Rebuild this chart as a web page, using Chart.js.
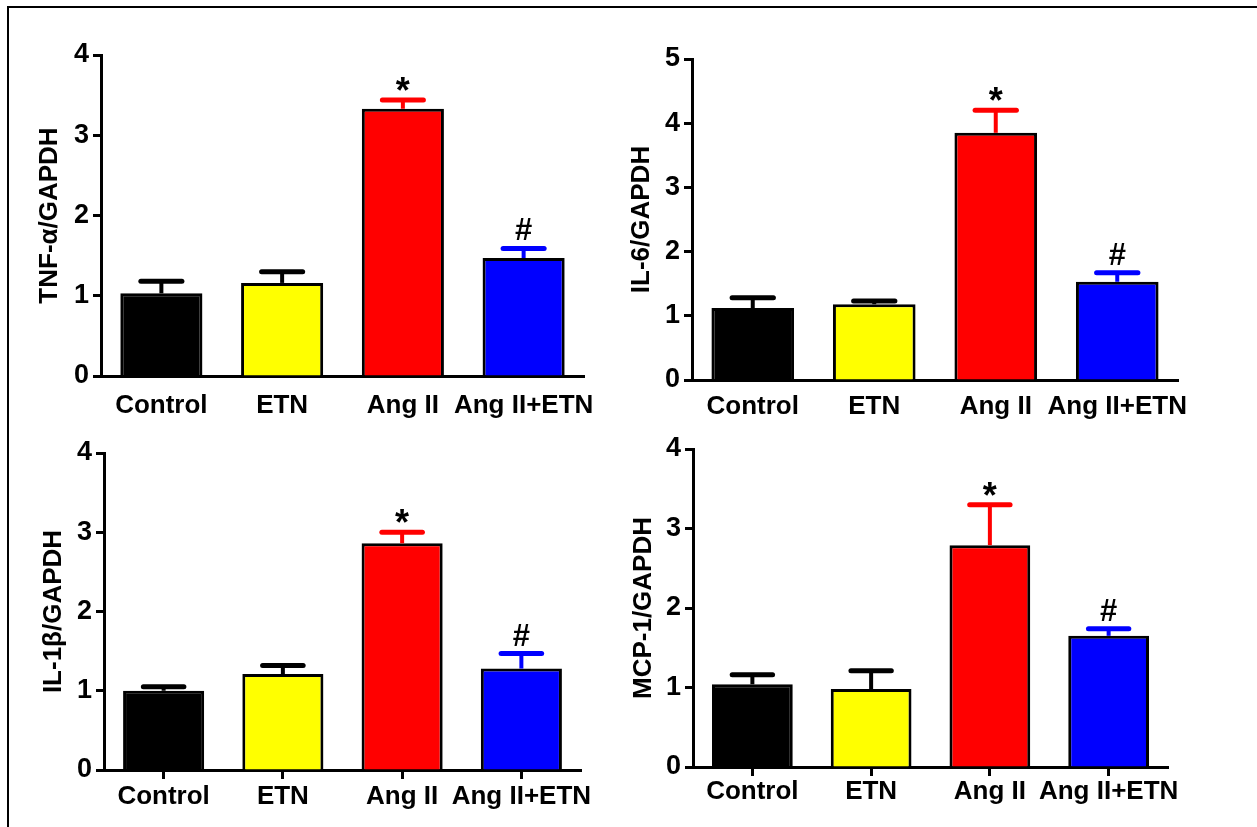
<!DOCTYPE html>
<html>
<head>
<meta charset="utf-8">
<script src="https://cdn.jsdelivr.net/npm/chart.js@4.4.1/dist/chart.umd.min.js"></script>
<style>
  body { margin: 0; background: #fff; width: 1257px; height: 827px; overflow: hidden; position: relative; }
  .frame { position: absolute; left: 7px; top: 6px; width: 1300px; height: 900px; border-top: 2px solid #000; border-left: 2px solid #000; }
  canvas { position: absolute; }
</style>
</head>
<body>
<div class="frame"></div>
<canvas id="tnf"></canvas>
<canvas id="il6"></canvas>
<canvas id="il1b"></canvas>
<canvas id="mcp"></canvas>
<script>
const categories = ["Control", "ETN", "Ang II", "Ang II+ETN"];

const tnfValues = [1.03, 1.16, 3.33, 1.47];
const tnfErrors = [0.15, 0.14, 0.11, 0.12];

const il6Values = [1.12, 1.18, 3.85, 1.53];
const il6Errors = [0.16, 0.05, 0.35, 0.14];

const il1bValues = [1.0, 1.21, 2.86, 1.28];
const il1bErrors = [0.05, 0.11, 0.14, 0.19];

const mcpValues = [1.04, 0.98, 2.79, 1.65];
const mcpErrors = [0.12, 0.23, 0.51, 0.09];

const marks = ["", "", "*", "#"];

const barColors = ["#000000", "#ffff00", "#ff0000", "#0000ff"];
const errorColors = ["#000000", "#000000", "#ff0000", "#0000ff"];

const FONT = "'Liberation Sans', Arial, sans-serif";

// box = canvas position, axis = where the axes should land on the page
const panels = [
  { id: "tnf", title: "TNF-α/GAPDH", values: tnfValues, errors: tnfErrors, max: 4,
    box: [10, 10, 610, 410], axis: [101, 55, 584, 376], titleOffset: 40, xTicks: false, labelPad: 14 },
  { id: "il6", title: "IL-6/GAPDH", values: il6Values, errors: il6Errors, max: 5,
    box: [620, 10, 620, 410], axis: [692, 59, 1178, 380], titleOffset: 22, xTicks: false, labelPad: 11 },
  { id: "il1b", title: "IL-1β/GAPDH", values: il1bValues, errors: il1bErrors, max: 4,
    box: [10, 420, 610, 407], axis: [104, 453, 581, 770], titleOffset: 44, xTicks: true, labelPad: 2 },
  { id: "mcp", title: "MCP-1/GAPDH", values: mcpValues, errors: mcpErrors, max: 4,
    box: [620, 420, 620, 407], axis: [693, 449, 1168, 767], titleOffset: 24, xTicks: true, labelPad: 0 },
];

const errorBars = {
  id: "errorBars",
  afterDatasetsDraw(chart) {
    const { ctx } = chart;
    const y = chart.scales.y;
    const ds = chart.data.datasets[0];
    const meta = chart.getDatasetMeta(0);
    ctx.save();
    meta.data.forEach((bar, i) => {
      const capY = y.getPixelForValue(ds.data[i] + ds.errors[i]);
      const half = bar.width / 4;
      ctx.strokeStyle = errorColors[i];
      ctx.lineCap = "butt";
      ctx.lineWidth = 4;
      ctx.beginPath();
      ctx.moveTo(bar.x, bar.y);
      ctx.lineTo(bar.x, capY);
      ctx.stroke();
      ctx.lineWidth = 5;
      ctx.lineCap = "round";
      ctx.beginPath();
      ctx.moveTo(bar.x - half, capY);
      ctx.lineTo(bar.x + half, capY);
      ctx.stroke();

      if (marks[i]) {
        ctx.fillStyle = "#000";
        ctx.textAlign = "center";
        ctx.textBaseline = "alphabetic";
        if (marks[i] === "*") {
          ctx.font = "bold 36px " + FONT;
          ctx.fillText(marks[i], bar.x, capY + 3);
        } else {
          ctx.font = "bold 31px " + FONT;
          ctx.fillText(marks[i], bar.x, capY - 8);
        }
      }
    });
    ctx.restore();
  }
};

panels.forEach(p => {
  const [bx, by, bw, bh] = p.box;
  const [aLeft, aTop, aRight, aBottom] = p.axis;
  const canvas = document.getElementById(p.id);
  canvas.style.left = bx + "px";
  canvas.style.top = by + "px";
  canvas.width = bw;
  canvas.height = bh;

  new Chart(canvas, {
    type: "bar",
    data: {
      labels: categories,
      datasets: [{
        data: p.values,
        errors: p.errors,
        backgroundColor: barColors,
        borderColor: "#000",
        borderWidth: 3,
        barPercentage: 0.68,
        categoryPercentage: 1,
      }],
    },
    options: {
      responsive: false,
      animation: false,
      devicePixelRatio: 1,
      layout: { padding: { top: aTop - by, right: bx + bw - aRight, left: 0, bottom: 0 } },
      plugins: { legend: { display: false }, tooltip: { enabled: false } },
      scales: {
        y: {
          min: 0,
          max: p.max,
          afterFit: s => { s.width = aLeft - bx; },
          ticks: { stepSize: 1, color: "#000", padding: 4, font: { family: FONT, size: 27, weight: "bold" } },
          grid: { drawOnChartArea: false, tickLength: 8, tickWidth: 3, tickColor: "#000" },
          border: { width: 3, color: "#000" },
          title: {
            display: true,
            text: p.title,
            color: "#000",
            font: { family: FONT, size: 26, weight: "bold" },
            padding: { top: p.titleOffset - 15.6, bottom: 0 },
          },
        },
        x: {
          afterFit: s => { s.height = by + bh - aBottom; },
          ticks: { color: "#000", padding: p.labelPad, autoSkip: false, maxRotation: 0, font: { family: FONT, size: 26, weight: "bold" } },
          grid: { drawOnChartArea: false, drawTicks: p.xTicks, offset: false, tickLength: 9, tickWidth: 3, tickColor: "#000" },
          border: { width: 3, color: "#000" },
        },
      },
    },
    plugins: [errorBars],
  });
});
</script>
</body>
</html>
